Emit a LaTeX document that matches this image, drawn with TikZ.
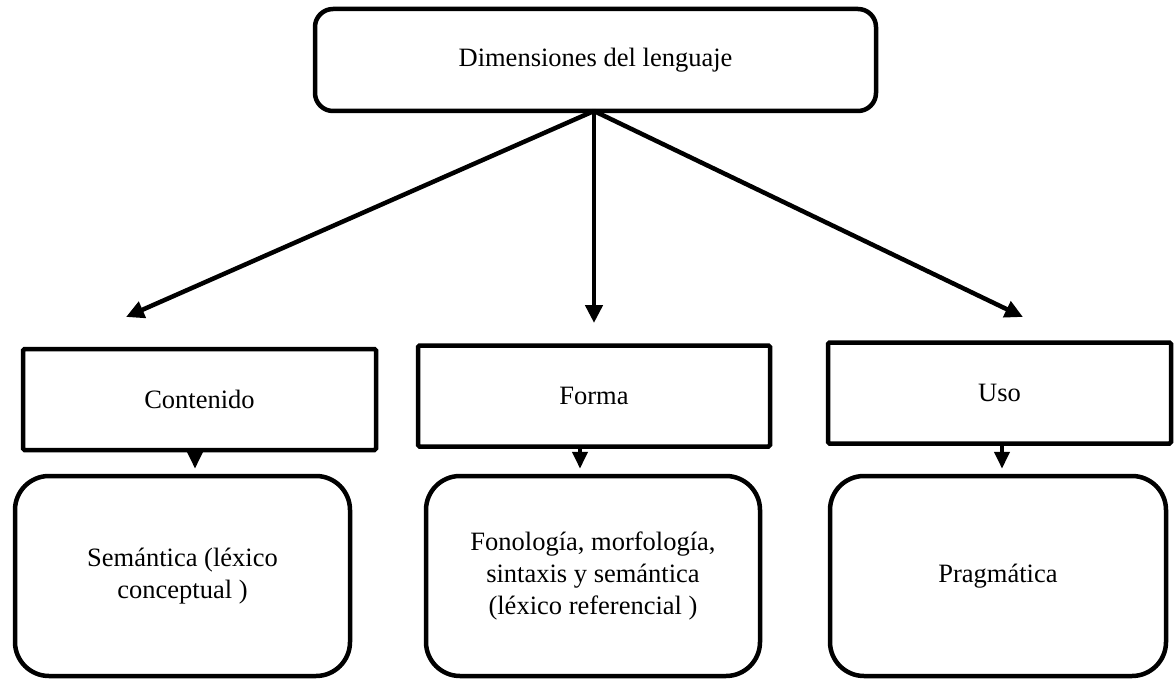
\documentclass[tikz,border=0pt]{standalone}
\usepackage{fontspec}
\setmainfont{Liberation Serif}
\usetikzlibrary{arrows.meta}
\newcommand{\lowered}[1]{\raisebox{-3pt}{\begin{tabular}{@{}c@{}}#1\end{tabular}}}
\begin{document}
\begin{tikzpicture}[x=1pt,y=-1pt,
  every node/.style={font=\fontsize{26.5}{32}\selectfont, align=center, inner sep=0pt},
  topbox/.style={draw, line width=4.5pt, rounded corners=18pt, minimum width=561pt, minimum height=102pt},
  midbox/.style={draw, line width=4.5pt, rounded corners=1.5pt, minimum height=101pt},
  lowbox/.style={draw, line width=4.5pt, rounded corners=34pt, minimum height=200pt},
  bigarrow/.style={line width=4.5pt, -{Triangle[length=18pt,width=17pt]}},
  smallarrow/.style={line width=4pt, -{Triangle[length=17pt,width=15pt]}, shorten >=5pt}]
\useasboundingbox (0,0) rectangle (1175,679);

\node[topbox] (top) at (595.5,60) {\lowered{Dimensiones del lenguaje}};

\node[midbox, minimum width=353pt] (cont) at (199.5,399.5) {Contenido};
\node[midbox, minimum width=352pt] (forma) at (594,396) {Forma};
\node[midbox, minimum width=343pt] (uso) at (999.5,393) {Uso};

\node[lowbox, minimum width=335pt] (sem) at (182.5,576) {\lowered{Semántica (léxico\\conceptual )}};
\node[lowbox, minimum width=334pt] (fon) at (593,576) {\lowered{Fonología, morfología,\\sintaxis y semántica\\(léxico referencial )}};
\node[lowbox, minimum width=336pt] (prag) at (998,576) {\lowered{Pragmática}};

\coordinate (src) at (594,111);
\coordinate (tl) at (126,317);
\coordinate (tm) at (594,323);
\coordinate (tr) at (1023,317);

\draw[bigarrow] (src) -- (tl);
\draw[bigarrow] (src) -- (tm);
\draw[bigarrow] (src) -- (tr);

\draw[smallarrow] (cont.south -| 195,0) -- (sem.north -| 195,0);
\draw[smallarrow] (forma.south -| 580,0) -- (fon.north -| 580,0);
\draw[smallarrow] (uso.south -| 1002,0) -- (prag.north -| 1002,0);
\end{tikzpicture}
\end{document}
